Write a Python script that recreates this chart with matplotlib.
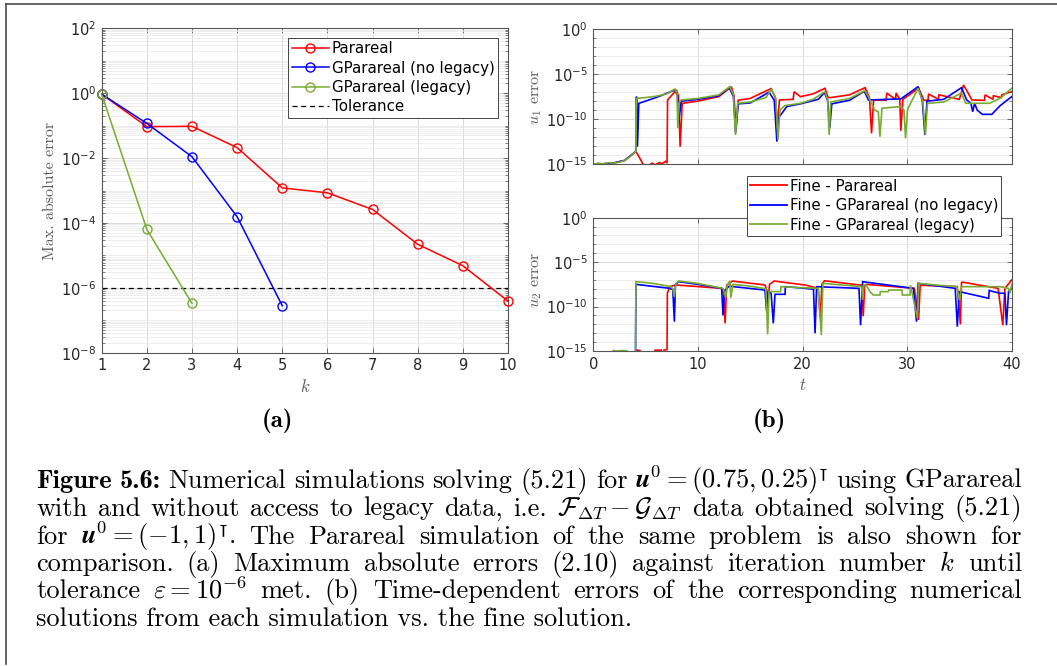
import numpy as np
import matplotlib
matplotlib.use("Agg")
import matplotlib.pyplot as plt
from matplotlib.ticker import (FixedLocator, LogFormatterSciNotation,
                               NullFormatter, LogLocator)
from matplotlib.lines import Line2D

# ---------------- (a) maximum absolute error vs iteration k ----------------
k_parareal = [1, 2, 3, 4, 5, 6, 7, 8, 9, 10]
err_parareal = [0.93, 0.093, 0.095, 0.021, 1.2e-3, 8.5e-4, 2.6e-4, 2.2e-5, 4.8e-6, 3.9e-7]
k_gp_nolegacy = [1, 2, 3, 4, 5]
err_gp_nolegacy = [0.93, 0.117, 0.011, 1.55e-4, 2.8e-7]
k_gp_legacy = [1, 2, 3]
err_gp_legacy = [0.93, 6.3e-5, 3.3e-7]
tolerance = 1e-6

# ---------------- (b) time-dependent errors (log10 of error) ----------------
u1_t_parareal = [0.0, 1.9, 3.0, 4.08, 4.8, 5.3, 5.6, 5.9, 6.3, 6.6, 6.9, 7.05, 7.1, 7.95, 8.15,
                 8.3, 8.5, 10.0, 12.0, 13.2, 13.45, 13.65, 13.85, 15.0, 17.0, 17.4, 17.6, 17.8,
                 19.1, 19.2, 19.8, 21.0, 22.15, 22.45, 22.7, 24.5, 25.98, 26.4, 26.6, 26.8, 28.0,
                 28.05, 28.9, 28.95, 29.3, 29.4, 29.6, 31.1, 31.6, 32.0, 32.05, 33.0, 33.05, 35.0,
                 35.4, 36.2, 37.4, 37.45, 38.2, 38.25, 39.0, 39.05, 40.0]
u1_log_parareal = [-15.05, -14.9, -14.6, -13.6, -15.1, -15.2, -14.9, -15.1, -14.85, -14.95, -14.7,
                   -14.9, -7.87, -6.76, -7.5, -13.07, -8.24, -8.0, -7.5, -6.4, -7.4, -11.2, -7.9,
                   -7.7, -6.6, -7.6, -10.75, -7.87, -7.8, -6.95, -7.5, -7.2, -6.57, -7.6, -7.6,
                   -7.3, -6.5, -7.6, -11.59, -7.87, -7.9, -7.1, -7.8, -7.1, -7.8, -11.3, -7.8,
                   -6.57, -7.9, -7.9, -7.2, -7.8, -7.3, -7.8, -6.2, -7.87, -7.9, -7.3, -7.8, -7.4,
                   -7.6, -7.3, -6.94]

u1_t_nolegacy = [0.0, 1.9, 3.0, 4.08, 4.13, 4.22, 4.35, 6.0, 7.8, 8.05, 8.15, 8.4, 10.0, 12.0,
                 13.0, 13.4, 13.6, 13.85, 15.0, 16.8, 17.3, 17.55, 17.75, 18.5, 19.8, 21.5, 22.1,
                 22.4, 22.6, 22.8, 24.5, 25.9, 26.3, 29.4, 31.05, 31.45, 31.7, 31.9, 33.5, 35.2,
                 35.7, 36.1, 36.27, 36.45, 36.7, 37.2, 38.1, 38.9, 40.0]
u1_log_nolegacy = [-15.05, -14.9, -14.6, -13.6, -7.5, -13.07, -8.25, -7.6, -6.76, -7.4, -10.5,
                   -8.0, -7.8, -7.4, -6.5, -7.5, -11.5, -8.3, -8.2, -7.0, -7.9, -12.5, -9.8,
                   -8.6, -8.3, -7.8, -7.05, -7.9, -11.0, -8.3, -7.9, -6.9, -7.87, -7.75, -6.39,
                   -7.9, -11.77, -8.0, -7.8, -6.5, -7.87, -8.24, -9.18, -8.24, -9.0, -9.47,
                   -9.47, -8.5, -7.5]

u1_t_legacy = [0.0, 0.5, 1.0, 1.5, 1.9, 2.5, 3.0, 3.5, 4.08, 4.12, 5.0, 6.0, 7.0, 7.8, 8.0, 8.08,
               8.2, 8.4, 10.0, 12.0, 13.05, 13.4, 13.6, 13.8, 15.0, 16.5, 17.05, 17.45, 17.65,
               17.85, 18.3, 19.8, 21.0, 22.15, 22.4, 22.55, 22.7, 24.5, 25.95, 26.3, 26.9, 27.25,
               27.4, 27.6, 29.4, 29.7, 29.85, 30.05, 31.05, 31.5, 31.75, 31.95, 33.5, 35.2, 35.6,
               37.9, 39.0, 40.0]
u1_log_legacy = [-15.05, -14.9, -15.0, -14.85, -14.9, -14.8, -14.6, -14.2, -13.6, -7.69, -7.6,
                 -7.45, -7.2, -6.65, -7.2, -11.0, -8.2, -7.87, -7.7, -7.3, -6.39, -7.3, -11.77,
                 -8.24, -8.1, -7.6, -6.65, -7.7, -12.3, -9.0, -8.5, -8.24, -7.8, -6.95, -7.8,
                 -11.77, -8.1, -7.7, -6.83, -7.5, -8.99, -9.2, -11.96, -8.8, -8.6, -9.0, -12.14,
                 -8.9, -6.57, -8.0, -11.77, -8.24, -8.1, -7.1, -8.24, -8.24, -7.6, -6.57]

u2_t_parareal = [0.0, 4.1, 4.14, 4.46, 4.5, 5.85, 5.9, 6.5, 6.55, 6.7, 6.76, 7.05, 7.08, 7.3, 7.9,
                 12.27, 12.45, 12.6, 12.75, 13.3, 16.41, 16.6, 16.7, 16.85, 17.3, 20.24, 21.5,
                 21.7, 21.85, 22.1, 25.66, 25.8, 25.95, 26.1, 30.7, 31.1, 31.25, 34.8, 35.1, 35.2,
                 35.3, 38.7, 39.15, 39.35, 40.0]
u2_log_parareal = [-16.0, -16.0, -14.9, -14.95, -16.0, -16.0, -14.92, -14.9, -16.0, -16.0, -14.9,
                   -14.85, -8.5, -7.76, -7.57, -7.95, -8.5, -11.89, -7.6, -7.13, -7.57, -8.2,
                   -9.5, -7.5, -7.13, -7.57, -7.95, -11.32, -7.5, -7.1, -7.6, -11.1, -7.6, -7.5,
                   -7.95, -11.5, -7.6, -7.76, -12.0, -7.3, -7.25, -7.95, -12.1, -7.95, -7.0]

u2_t_nolegacy = [0.0, 4.03, 4.08, 5.5, 7.33, 7.6, 7.75, 7.85, 8.13, 10.0, 12.27, 12.4, 12.55,
                 13.0, 13.39, 16.41, 16.57, 16.7, 17.0, 17.21, 17.37, 18.33, 18.36, 20.24, 21.05,
                 21.2, 21.35, 25.4, 25.55, 25.75, 30.6, 30.9, 31.05, 34.6, 34.8, 35.0, 37.8,
                 37.85, 38.9, 39.35, 39.5, 39.7, 40.0]
u2_log_nolegacy = [-16.0, -16.0, -7.5, -7.7, -7.95, -8.1, -11.7, -7.6, -7.2, -7.5, -7.95, -11.0,
                   -8.2, -7.7, -7.76, -8.14, -10.5, -8.3, -8.5, -11.89, -8.62, -8.62, -7.76,
                   -7.95, -8.05, -13.0, -7.76, -7.95, -12.1, -7.2, -7.95, -11.7, -7.39, -7.95,
                   -12.26, -8.32, -9.07, -8.2, -8.5, -8.5, -12.1, -8.3, -7.95]

u2_t_legacy = [0.0, 1.85, 1.9, 2.3, 2.7, 3.2, 3.25, 4.03, 4.08, 5.5, 7.4, 7.6, 7.75, 7.9, 8.2,
               10.0, 12.4, 12.65, 12.8, 13.05, 13.15, 13.35, 15.0, 16.5, 16.67, 16.8, 17.9, 17.95,
               19.5, 21.5, 21.8, 21.95, 23.5, 25.66, 25.75, 25.85, 26.1, 26.45, 26.77, 27.4,
               27.45, 28.2, 28.25, 29.5, 29.55, 30.28, 30.32, 30.98, 31.1, 33.0, 34.74, 35.0,
               35.2, 38.9, 39.7, 39.84, 40.0]
u2_log_legacy = [-16.0, -16.0, -14.95, -15.0, -14.95, -14.97, -16.0, -16.0, -7.2, -7.35, -7.76,
                 -8.0, -8.9, -7.4, -7.12, -7.4, -7.95, -9.0, -7.6, -7.12, -9.0, -7.5, -7.7, -8.0,
                 -13.12, -8.3, -8.32, -7.76, -7.85, -7.95, -13.2, -7.39, -7.55, -7.76, -9.26,
                 -7.57, -7.6, -8.32, -8.7, -8.7, -8.32, -8.32, -8.14, -8.14, -8.7, -8.7, -7.57,
                 -11.3, -7.39, -7.6, -7.76, -9.26, -7.76, -7.76, -7.95, -8.51, -7.5]

series_labels_a = ['Parareal', 'GParareal (no legacy)', 'GParareal (legacy)', 'Tolerance']
series_labels_b = ['Fine - Parareal', 'Fine - GParareal (no legacy)', 'Fine - GParareal (legacy)']

# ---------------- figure geometry (pixels) ----------------
W, H, DPI = 1057, 666, 100


def fx(px):
    return px / W


def fy(py):
    return 1 - py / H


RED, BLUE, GREEN = '#ff0000', '#0000ff', '#77ac30'
AX_COLOR = '#555555'
TXT = '#262626'
GRID_MAJ = '#d4d4d4'
GRID_MIN = '#e8e8e8'
TICK_SIZE = 10.5
LEG_SIZE = 10.8

plt.rcParams.update({
    'font.family': 'DejaVu Sans',
    'mathtext.fontset': 'dejavusans',
    'axes.linewidth': 0.8,
})

fig = plt.figure(figsize=(W / DPI, H / DPI), dpi=DPI)
fig.patch.set_facecolor('white')


def style_axes(ax):
    for s in ax.spines.values():
        s.set_color(AX_COLOR)
        s.set_linewidth(0.8)
    ax.tick_params(which='both', direction='in', top=True, right=True,
                   colors=AX_COLOR, labelcolor=TXT, labelsize=TICK_SIZE)
    ax.tick_params(which='major', length=3.5, width=0.6, pad=4)
    ax.tick_params(which='minor', length=2, width=0.5)
    ax.set_axisbelow(True)


# ---------------- panel (a) ----------------
axA = fig.add_axes([fx(101.7), fy(352.7), fx(508) - fx(101.7), fy(28.3) - fy(352.7)])
axA.set_yscale('log')
axA.set_xlim(1, 10)
axA.set_ylim(1e-8, 1e2)
axA.set_xticks(range(1, 11))
axA.yaxis.set_major_locator(FixedLocator([10.0 ** e for e in range(-8, 3, 2)]))
axA.yaxis.set_major_formatter(LogFormatterSciNotation())
axA.yaxis.set_minor_locator(LogLocator(base=10, subs=np.arange(1, 10), numticks=100))
axA.yaxis.set_minor_formatter(NullFormatter())
style_axes(axA)
axA.grid(True, which='major', color=GRID_MAJ, lw=0.6)
axA.grid(True, which='minor', axis='y', color=GRID_MIN, lw=0.5)

mk = dict(marker='o', mfc='none', ms=6.5, mew=1.0, lw=1.1, clip_on=False, zorder=3)
axA.plot(k_parareal, err_parareal, color=RED, label=series_labels_a[0], **mk)
axA.plot(k_gp_nolegacy, err_gp_nolegacy, color=BLUE, label=series_labels_a[1], **mk)
axA.plot(k_gp_legacy, err_gp_legacy, color=GREEN, label=series_labels_a[2], **mk)
axA.axhline(tolerance, color='black', lw=0.9, dashes=(4, 3), label=series_labels_a[3], zorder=2)

legA = axA.legend(loc='upper right', bbox_to_anchor=(fx(498.3), fy(37.7)),
                  bbox_transform=fig.transFigure, fontsize=LEG_SIZE, frameon=True,
                  fancybox=False, edgecolor='#444444', framealpha=1, borderpad=0.25,
                  labelspacing=0.28, handlelength=2.45, handletextpad=0.2, borderaxespad=0)
legA.get_frame().set_linewidth(0.7)
for t in legA.get_texts():
    t.set_color('black')

fig.text(fx(50), fy(190.7), 'Max. absolute error', rotation=90, ha='center', va='center',
         family='cmr10', fontsize=11.5, color='#5a5a5a')
fig.text(fx(305), fy(386.7), '$k$', ha='center', va='center', math_fontfamily='cm',
         fontsize=12, color='#5a5a5a')

# ---------------- panel (b) ----------------
axU1 = fig.add_axes([fx(593.3), fy(164), fx(1011.7) - fx(593.3), fy(29.3) - fy(164)])
axU2 = fig.add_axes([fx(593.3), fy(351), fx(1011.7) - fx(593.3), fy(217.7) - fy(351)])
for ax in (axU1, axU2):
    ax.set_yscale('log')
    ax.set_xlim(0, 40)
    ax.set_ylim(1e-15, 1)
    ax.set_xticks([0, 10, 20, 30, 40])
    ax.yaxis.set_major_locator(FixedLocator([1e-15, 1e-10, 1e-5, 1.0]))
    ax.yaxis.set_major_formatter(LogFormatterSciNotation())
    ax.yaxis.set_minor_locator(FixedLocator([10.0 ** e for e in range(-15, 1)]))
    ax.yaxis.set_minor_formatter(NullFormatter())
    style_axes(ax)
    ax.grid(True, which='major', color=GRID_MAJ, lw=0.6)
    ax.grid(True, which='minor', axis='y', color=GRID_MIN, lw=0.6)
axU1.tick_params(labelbottom=False)

lk = dict(lw=1.2, solid_joinstyle='miter')
axU1.plot(u1_t_parareal, 10.0 ** np.array(u1_log_parareal), color=RED, **lk)
axU1.plot(u1_t_nolegacy, 10.0 ** np.array(u1_log_nolegacy), color=BLUE, **lk)
axU1.plot(u1_t_legacy, 10.0 ** np.array(u1_log_legacy), color=GREEN, **lk)
axU2.plot(u2_t_parareal, 10.0 ** np.array(u2_log_parareal), color=RED, **lk)
axU2.plot(u2_t_nolegacy, 10.0 ** np.array(u2_log_nolegacy), color=BLUE, **lk)
axU2.plot(u2_t_legacy, 10.0 ** np.array(u2_log_legacy), color=GREEN, **lk)

handles_b = [Line2D([], [], color=c, lw=1.3) for c in (RED, BLUE, GREEN)]
legB = axU2.legend(handles_b, series_labels_b, loc='upper right',
                   bbox_to_anchor=(fx(1001), fy(175.7)), bbox_transform=fig.transFigure,
                   fontsize=LEG_SIZE, frameon=True, fancybox=False, edgecolor='#444444',
                   framealpha=1, borderpad=0.2, labelspacing=0.3, handlelength=2.45,
                   handletextpad=0.2, borderaxespad=0)
legB.get_frame().set_linewidth(0.7)
legB.set_zorder(10)
for t in legB.get_texts():
    t.set_color('black')

fig.text(fx(537), fy(96.7), r'$u_1$ error', rotation=90, ha='center', va='center',
         family='cmr10', math_fontfamily='cm', fontsize=11.5, color='#5a5a5a')
fig.text(fx(537), fy(280), r'$u_2$ error', rotation=90, ha='center', va='center',
         family='cmr10', math_fontfamily='cm', fontsize=11.5, color='#5a5a5a')
fig.text(fx(802.7), fy(385), '$t$', ha='center', va='center', math_fontfamily='cm',
         fontsize=12, color='#5a5a5a')

# ---------------- sub-figure tags ----------------
fig.text(fx(277), fy(427), '(a)', family='cmb10', fontsize=18, ha='center', va='baseline')
fig.text(fx(769), fy(427), '(b)', family='cmb10', fontsize=18, ha='center', va='baseline')

# ---------------- page frame ----------------
frame_kw = dict(transform=fig.transFigure, color='#4a4a4a', lw=1.2)
fig.add_artist(Line2D([fx(6), 1.0], [fy(4), fy(4)], **frame_kw))
fig.add_artist(Line2D([fx(6), fx(6)], [fy(4), fy(664)], **frame_kw))

# ---------------- caption (justified) ----------------
renderer = fig.canvas.get_renderer()
REG = dict(family='cmr10', math_fontfamily='cm', color='black')
BOLD = dict(family='cmb10', math_fontfamily='cm', color='black')


def text_width(s, size, props):
    t = fig.text(0, 0, s, fontsize=size, **props)
    w = t.get_window_extent(renderer=renderer).width
    t.remove()
    return w


caption_lines = [
    [('Figure', BOLD), ('5.6:', BOLD), ('Numerical', REG), ('simulations', REG), ('solving', REG),
     ('(5.21)', REG), ('for', REG), (r'$\boldsymbol{u}^0 = (0.75, 0.25)^{\intercal}$', REG),
     ('using', REG), ('GParareal', REG)],
    [('with', REG), ('and', REG), ('without', REG), ('access', REG), ('to', REG), ('legacy', REG),
     ('data,', REG), ('i.e.', REG), (r'$\mathcal{F}_{\Delta T} - \mathcal{G}_{\Delta T}$', REG),
     ('data', REG), ('obtained', REG), ('solving', REG), ('(5.21)', REG)],
    [('for', REG), (r'$\boldsymbol{u}^0 = (-1, 1)^{\intercal}$.', REG), ('The', REG),
     ('Parareal', REG), ('simulation', REG), ('of', REG), ('the', REG), ('same', REG),
     ('problem', REG), ('is', REG), ('also', REG), ('shown', REG), ('for', REG)],
    [('comparison.', REG), ('(a)', REG), ('Maximum', REG), ('absolute', REG), ('errors', REG),
     ('(2.10)', REG), ('against', REG), ('iteration', REG), ('number', REG), ('$k$', REG),
     ('until', REG)],
    [('tolerance', REG), (r'$\varepsilon = 10^{-6}$', REG), ('met.', REG), ('(b)', REG),
     ('Time-dependent', REG), ('errors', REG), ('of', REG), ('the', REG),
     ('corresponding', REG), ('numerical', REG)],
]
last_line = 'solutions from each simulation vs. the fine solution.'
baselines = [488.0, 515.5, 544.0, 571.0, 598.3, 626.0]
x_left, x_right = 36.0, 1022.0

size0 = 16.0
cap_size = size0 * 596.0 / text_width(last_line, size0, REG)

for tokens, yb in zip(caption_lines, baselines):
    widths = [text_width(s, cap_size, p) for s, p in tokens]
    gap = (x_right - x_left - sum(widths)) / (len(tokens) - 1)
    x = x_left
    for (s, p), w in zip(tokens, widths):
        fig.text(fx(x), fy(yb), s, fontsize=cap_size, ha='left', va='baseline', **p)
        x += w + gap
fig.text(fx(x_left), fy(baselines[-1]), last_line, fontsize=cap_size, ha='left',
         va='baseline', **REG)

fig.savefig('out.png', dpi=DPI, facecolor='white')
